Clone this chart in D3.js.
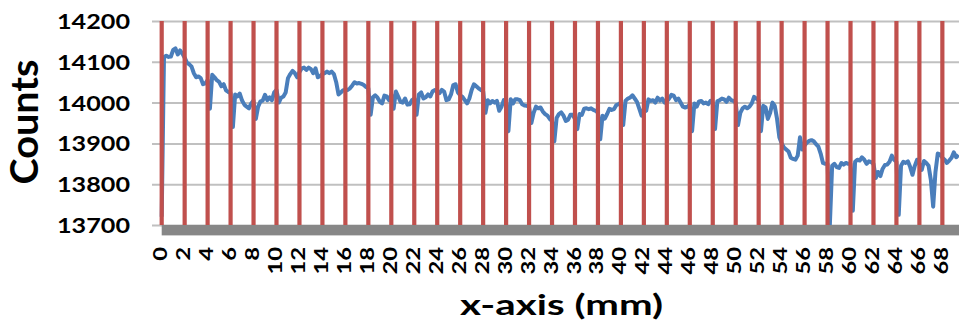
<!DOCTYPE html>
<html>
<head>
<meta charset="utf-8">
<script src="https://cdn.jsdelivr.net/npm/d3@7"></script>
<style>
  html, body { margin: 0; padding: 0; background: #ffffff; }
  svg { display: block; }
  text { font-family: Lato, "Open Sans", sans-serif; font-weight: 700; fill: #000; }
</style>
</head>
<body>
<svg id="chart" width="959" height="335"></svg>
<script>
// Detector counts sampled every 0.2 mm along the scan
const sampleStepMm = 0.2;
const counts = [
  13720, 14112, 14115, 14112, 14113, 14129, 14133, 14118, 14128, 14120, 14110,
  14098, 14094, 14088, 14072, 14062, 14064, 14060, 14045, 14047, 14055,
  13985, 14068, 14062, 14055, 14051, 14040, 14045, 14030, 14026, 14024,
  13940, 14020, 14015, 14022, 14005, 13995, 13990, 13986, 13998, 14005,
  13960, 13990, 14003, 14005, 14019, 14006, 14013, 14006, 14025, 14031,
  14000, 14012, 14015, 14025, 14060, 14070, 14078, 14072, 14062, 14075,
  14084, 14086, 14080, 14086, 14082, 14072, 14084, 14062, 14065, 14070,
  14072, 14076, 14072, 14076, 14070, 14050, 14020, 14025, 14030, 14030,
  14031, 14035, 14042, 14050, 14047, 14048, 14046, 14043, 14038, 14035,
  13970, 14013, 14018, 14012, 14002, 13998, 14017, 14015, 14006, 14020,
  13985, 14027, 14015, 14002, 14000, 14010, 13995, 13996, 14006, 14010,
  13970, 14020, 14025, 14010, 14013, 14020, 14015, 14028, 14031, 14025,
  14023, 14031, 14027, 14006, 14008, 14020, 14043, 14045, 14025, 14018,
  14014, 14006, 13998, 14010, 14031, 14045, 14040, 14035, 14031, 14028,
  13975, 14006, 13998, 14004, 14000, 14004, 13980, 13990, 14006, 14000,
  13930, 14008, 13998, 14008, 14008, 14006, 13996, 13993, 13992, 13990,
  13950, 13975, 13990, 13986, 13988, 13978, 13972, 13968, 13960, 13955,
  13905, 13962, 13972, 13976, 13968, 13955, 13958, 13970, 13970, 13960,
  13935, 13972, 13970, 13985, 13986, 13984, 13986, 13982, 13980, 13975,
  13910, 13968, 13961, 13972, 13985, 13982, 13984, 13994, 13996, 14000,
  13945, 14004, 14010, 14012, 14018, 14010, 14002, 13985, 13968, 13985,
  13980, 14008, 14004, 14006, 14000, 14012, 14005, 14010, 14000, 14003,
  14010, 14019, 14017, 14006, 14010, 14000, 13990, 13988, 13990, 13995,
  13930, 13998, 13990, 14003, 14004, 13998, 14000, 13996, 14004, 14000,
  13935, 14003, 14006, 14010, 14008, 14002, 14012, 14006, 14004, 14000,
  13945, 13975, 13986, 13990, 13986, 13990, 13998, 14014, 14010, 14005,
  13930, 13992, 13988, 13960, 13975, 14000, 13992, 13960, 13915, 13900,
  13890, 13885, 13880, 13865, 13862, 13860, 13870, 13915, 13885, 13895,
  13902, 13906, 13908, 13905, 13898, 13892, 13875, 13852, 13850, 13850,
  13700, 13845, 13850, 13842, 13840, 13852, 13848, 13852, 13850, 13850,
  13735, 13855, 13860, 13858, 13866, 13860, 13850, 13856, 13854, 13850,
  13815, 13830, 13820, 13838, 13847, 13848, 13855, 13870, 13860, 13855,
  13725, 13845, 13855, 13852, 13856, 13842, 13823, 13845, 13860, 13850,
  13835, 13857, 13852, 13845, 13810, 13745, 13830, 13875, 13873, 13865,
  13860, 13852, 13858, 13865, 13878, 13866, 13872
];

// Grid/marker positions along x (mm) and the y tick values
const xTicks = [0, 2, 4, 6, 8, 10, 12, 14, 16, 18, 20, 22, 24, 26, 28, 30, 32, 34,
                36, 38, 40, 42, 44, 46, 48, 50, 52, 54, 56, 58, 60, 62, 64, 66, 68];
const markerPositions = xTicks;
const yTicks = [13700, 13800, 13900, 14000, 14100, 14200];
const xDomain = [0, 69.45];
const yDomain = [13700, 14200];

const svg = d3.select("#chart");
const W = 959;
const plotLeft = 161.7, plotTop = 21, plotBottom = 225;

const x = d3.scaleLinear().domain(xDomain).range([plotLeft, W]);
const y = d3.scaleLinear().domain(yDomain).range([plotBottom, plotTop]);

// Horizontal gridlines + y tick labels
const gridLeft = 152;
const yAxis = svg.append("g")
  .attr("transform", `translate(${gridLeft},0)`)
  .call(d3.axisLeft(y).tickValues(yTicks).tickSize(-(W - gridLeft)).tickPadding(22).tickFormat(d3.format("d")));
yAxis.select(".domain").remove();
yAxis.selectAll(".tick line").attr("stroke", "#c0c0c0").attr("stroke-width", 2);
yAxis.selectAll(".tick text")
  .attr("font-size", 21)
  .attr("dy", "0.36em")
  .attr("textLength", 73)
  .attr("lengthAdjust", "spacingAndGlyphs")
  .style("font-family", "Lato, 'Open Sans', sans-serif")
  .style("font-weight", 700)
  .attr("fill", "#000");

// Signal trace
const points = counts.map((c, i) => [i * sampleStepMm, c]);
const line = d3.line().x(d => x(d[0])).y(d => y(d[1]));
svg.append("path")
  .datum(points)
  .attr("d", line)
  .attr("fill", "none")
  .attr("stroke", "#4a7ebb")
  .attr("stroke-width", 4)
  .attr("stroke-linejoin", "round");

// Red position markers every 2 mm
svg.append("g").selectAll("line")
  .data(markerPositions)
  .join("line")
  .attr("x1", d => x(d)).attr("x2", d => x(d))
  .attr("y1", y(yDomain[1])).attr("y2", y(yDomain[0]))
  .attr("stroke", "#c0504d")
  .attr("stroke-width", 4.2);

// Thick grey x-axis band
svg.append("rect")
  .attr("x", plotLeft).attr("y", plotBottom)
  .attr("width", W - plotLeft).attr("height", 10)
  .attr("fill", "#878787");
svg.append("line")
  .attr("x1", plotLeft).attr("x2", W)
  .attr("y1", plotBottom + 10.5).attr("y2", plotBottom + 10.5)
  .attr("stroke", "#d0d0d0").attr("stroke-width", 1);

// Rotated x tick labels
const xAxis = svg.append("g")
  .attr("transform", `translate(0,${plotBottom})`)
  .call(d3.axisBottom(x).tickValues(xTicks).tickSize(0).tickFormat(d3.format("d")));
xAxis.select(".domain").remove();
xAxis.selectAll(".tick text")
  .attr("transform", "rotate(-90)")
  .attr("x", -22)
  .attr("y", 0)
  .attr("dy", "0.28em")
  .attr("text-anchor", "end")
  .attr("font-size", 18)
  .attr("textLength", d => String(d).length * 13.8)
  .attr("lengthAdjust", "spacingAndGlyphs")
  .style("font-family", "Lato, 'Open Sans', sans-serif")
  .style("font-weight", 700)
  .attr("fill", "#000");

// Axis titles
svg.append("text")
  .attr("transform", "translate(25,122) rotate(-90)")
  .attr("text-anchor", "middle")
  .attr("dy", "0.35em")
  .attr("font-size", 38)
  .attr("textLength", 125)
  .attr("lengthAdjust", "spacingAndGlyphs")
  .text("Counts");

svg.append("text")
  .attr("x", 460)
  .attr("y", 315)
  .attr("font-size", 29)
  .attr("textLength", 203)
  .attr("lengthAdjust", "spacingAndGlyphs")
  .text("x-axis (mm)");
</script>
</body>
</html>
